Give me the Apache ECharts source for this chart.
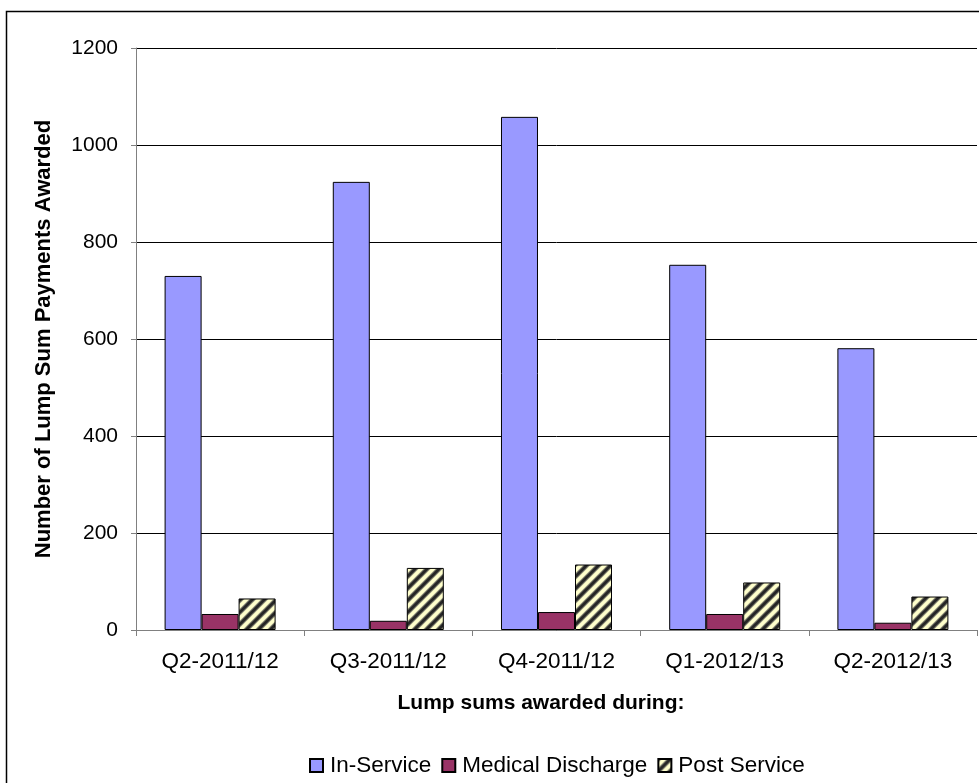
<!DOCTYPE html>
<html>
<head>
<meta charset="utf-8">
<script src="https://cdn.jsdelivr.net/npm/echarts@6/dist/echarts.min.js"></script>
<style>
  html, body { margin: 0; padding: 0; background: #fff; }
  #chart { width: 979px; height: 783px; }
</style>
</head>
<body>
<div id="chart"></div>
<script>
// Quarterly lump sum payments awarded, by claimant status
const quarters = ['Q2-2011/12', 'Q3-2011/12', 'Q4-2011/12', 'Q1-2012/13', 'Q2-2012/13'];
const inService = [730, 924, 1058, 753, 581];
const medicalDischarge = [33, 19, 37, 33, 15];
const postService = [65, 128, 135, 98, 69];
const yTicks = [0, 200, 400, 600, 800, 1000, 1200];

const FONT = '"Liberation Sans", Arial, sans-serif';

// Pale yellow fill with soft dark diagonal hatching for the post-service bars
function hatchPattern() {
  const c = document.createElement('canvas');
  const s = 12;
  c.width = s; c.height = s;
  const ctx = c.getContext('2d');
  ctx.fillStyle = '#FFFFCC';
  ctx.fillRect(0, 0, s, s);
  const draw = (w, col) => {
    ctx.strokeStyle = col;
    ctx.lineWidth = w;
    ctx.beginPath();
    ctx.moveTo(-3, s + 3); ctx.lineTo(s + 3, -3);
    ctx.moveTo(-3, 3); ctx.lineTo(3, -3);
    ctx.moveTo(s - 3, s + 3); ctx.lineTo(s + 3, s - 3);
    ctx.stroke();
  };
  draw(5, '#8a8a78');
  draw(3, '#262626');
  return c;
}

const chart = echarts.init(document.getElementById('chart'), null, { renderer: 'canvas' });

const barBorder = { borderColor: '#000', borderWidth: 1 };

chart.setOption({
  animation: false,
  backgroundColor: '#fff',
  textStyle: { fontFamily: FONT },
  grid: { left: 136, right: 2, top: 48, bottom: 153, containLabel: false },
  legend: {
    top: 749,
    left: 304,
    itemWidth: 13,
    itemHeight: 13,
    itemGap: 10,
    icon: 'rect',
    textStyle: { fontFamily: FONT, fontSize: 22.5, color: '#000', padding: [0, 0, 0, 2] },
    data: ['In-Service', 'Medical Discharge', 'Post Service']
  },
  xAxis: {
    type: 'category',
    data: quarters,
    axisLine: { lineStyle: { color: '#808080', width: 1 } },
    axisTick: { show: true, length: 6, lineStyle: { color: '#808080' } },
    axisLabel: { fontFamily: FONT, fontSize: 22.5, color: '#000', margin: 20 },
    splitLine: { show: false }
  },
  yAxis: {
    type: 'value',
    min: yTicks[0],
    max: yTicks[yTicks.length - 1],
    interval: 200,
    axisLine: { show: true, lineStyle: { color: '#808080', width: 1 } },
    axisTick: { show: true, length: 5, lineStyle: { color: '#808080' } },
    axisLabel: {
      fontFamily: FONT, fontSize: 21, color: '#000', margin: 18,
      formatter: (v) => String(v)
    },
    splitLine: { show: true, lineStyle: { color: '#000', width: 1 } },
    name: 'Number of Lump Sum Payments Awarded',
    nameLocation: 'middle',
    nameGap: 81,
    nameTextStyle: { fontFamily: FONT, fontSize: 22, fontWeight: 'bold', color: '#000' }
  },
  graphic: [
    {
      type: 'rect',
      silent: true,
      shape: { x: 6.5, y: 11.5, width: 1000, height: 1000 },
      style: { fill: 'none', stroke: '#000', lineWidth: 1.5 },
      z: -10
    },
    {
      type: 'text',
      x: 541,
      y: 703,
      style: {
        text: 'Lump sums awarded during:',
        fontFamily: FONT,
        fontSize: 21,
        fontWeight: 'bold',
        fill: '#000',
        align: 'center',
        verticalAlign: 'middle'
      }
    }
  ],
  series: [
    {
      name: 'In-Service',
      type: 'bar',
      data: inService,
      barGap: '0%',
      barCategoryGap: '34%',
      itemStyle: Object.assign({ color: '#9999FF' }, barBorder)
    },
    {
      name: 'Medical Discharge',
      type: 'bar',
      data: medicalDischarge,
      itemStyle: Object.assign({ color: '#993366' }, barBorder)
    },
    {
      name: 'Post Service',
      type: 'bar',
      data: postService,
      itemStyle: Object.assign({ color: { image: hatchPattern(), repeat: 'repeat' } }, barBorder)
    }
  ]
});
</script>
</body>
</html>
